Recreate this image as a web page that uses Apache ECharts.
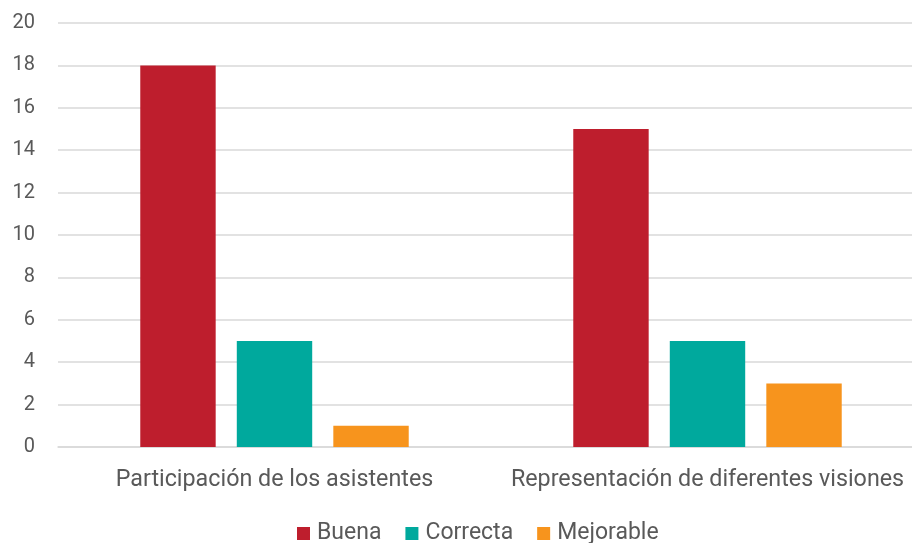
<!DOCTYPE html>
<html>
<head>
<meta charset="utf-8">
<script src="https://cdn.jsdelivr.net/npm/echarts@6/dist/echarts.min.js"></script>
<style>
html, body { margin: 0; padding: 0; background: #fff; }
#chart { width: 912px; height: 543px; }
</style>
</head>
<body>
<div id="chart"></div>
<script>
var categories = ['Participación de los asistentes', 'Representación de diferentes visiones'];
var buena = [18, 15];
var correcta = [5, 5];
var mejorable = [1, 3];

var box = document.getElementById('chart');
var myChart = echarts.init(box);
var font = 'Roboto, "Noto Sans", sans-serif';
var options = {
    animation: false,
    textStyle: { fontFamily: font },
    color: ['#BE1E2D', '#00A99D', '#F7941D'],
    legend: {
        data: ['Buena', 'Correcta', 'Mejorable'],
        left: 297,
        top: 522,
        padding: 0,
        itemWidth: 13,
        itemHeight: 13,
        itemGap: 24,
        icon: 'rect',
        textStyle: { color: '#595959', fontSize: 23, fontFamily: font, padding: [0, 0, 0, 2] }
    },
    grid: {
        left: 58,
        width: 866,
        top: 23,
        height: 424,
        outerBoundsMode: 'none',
        containLabel: false
    },
    xAxis: {
        type: 'category',
        data: categories,
        axisLine: { lineStyle: { color: '#d9d9d9', width: 1.5 } },
        axisTick: { show: false },
        axisLabel: { color: '#595959', fontSize: 23.3, margin: 22, interval: 0, fontFamily: font }
    },
    yAxis: {
        type: 'value',
        min: 0,
        max: 20,
        interval: 2,
        axisLine: { show: false },
        axisTick: { show: false },
        axisLabel: { color: '#595959', fontSize: 20, margin: 23, fontFamily: font },
        splitLine: { lineStyle: { color: '#d9d9d9', width: 1.5 } }
    },
    series: [
        { name: 'Buena', type: 'bar', data: buena, barGap: '28%', barCategoryGap: '38%' },
        { name: 'Correcta', type: 'bar', data: correcta },
        { name: 'Mejorable', type: 'bar', data: mejorable }
    ]
};
myChart.setOption(options);
</script>
</body>
</html>
